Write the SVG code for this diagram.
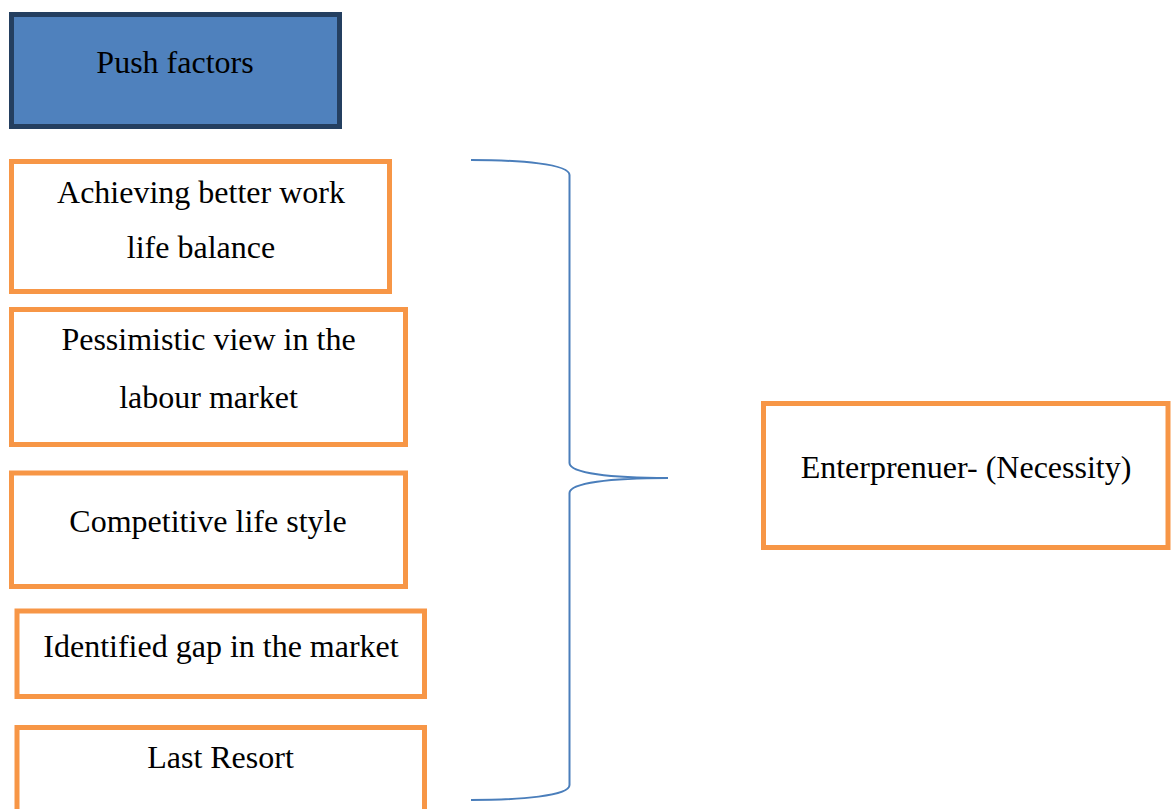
<svg xmlns="http://www.w3.org/2000/svg" width="1171" height="809" viewBox="0 0 1171 809">
<style>
.box{fill:#FFFFFF;stroke:#F79646;stroke-width:5}
.head{fill:#4F81BD;stroke:#243F60;stroke-width:5}
.t{font-family:"Liberation Serif","Times New Roman",serif;font-size:32px;fill:#000000;text-anchor:middle}
.brace{fill:none;stroke:#4A7EBB;stroke-width:2}
</style>
<rect width="1171" height="809" fill="#FFFFFF"/>
<g id="push-factors">
<rect class="head" x="11.5" y="14.5" width="328" height="112"/>
<text class="t" x="175" y="73">Push factors</text>
</g>
<g id="work-life-balance">
<rect class="box" x="11.5" y="161.5" width="378" height="130"/>
<text class="t" x="201" y="203">Achieving better work</text>
<text class="t" x="201" y="258">life balance</text>
</g>
<g id="pessimistic-view">
<rect class="box" x="11.5" y="309.5" width="394" height="135"/>
<text class="t" x="208.5" y="350">Pessimistic view in the</text>
<text class="t" x="208.5" y="408">labour market</text>
</g>
<g id="competitive-life-style">
<rect class="box" x="11.5" y="473" width="394" height="113.5"/>
<text class="t" x="208" y="531.5">Competitive life style</text>
</g>
<g id="identified-gap">
<rect class="box" x="17" y="611" width="407.5" height="85.5"/>
<text class="t" x="221" y="656.5">Identified gap in the market</text>
</g>
<g id="last-resort">
<rect class="box" x="17" y="727.5" width="407.5" height="100"/>
<text class="t" x="220.5" y="768">Last Resort</text>
</g>
<g id="entrepreneur-necessity">
<rect class="box" x="763.5" y="403.5" width="404.5" height="144"/>
<text class="t" x="966" y="478">Enterprenuer- (Necessity)</text>
</g>
<g id="connectors">
<path class="brace" d="M471,160 C520,160 569.5,164 569.5,175 L569.5,463 C569.5,473 610,478 668,478 C610,478 569.5,483 569.5,493 L569.5,785 C569.5,796 520,800 471,800"/>
</g>
</svg>
